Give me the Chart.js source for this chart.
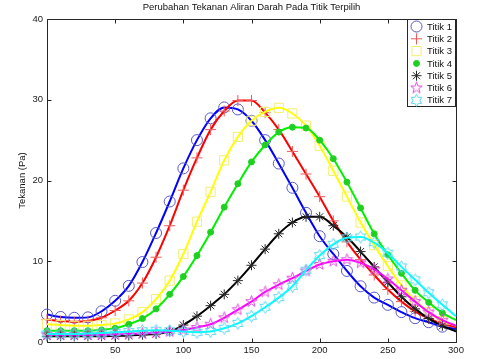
<!DOCTYPE html>
<html><head><meta charset="utf-8">
<script src="https://cdn.jsdelivr.net/npm/chart.js@4/dist/chart.umd.min.js"></script>
<style>html,body{margin:0;padding:0;background:#fff;}canvas{display:block;}</style>
</head><body>
<canvas id="c" width="479" height="359"></canvas>
<script>
// ---- data ----
const xValues = [0,10,20,30,40,50,60,70,80,90,100,110,120,130,140,150,160,170,180,190,200,210,220,230,240,250,260,270,280,290,300];
const seriesNames = ['Titik 1','Titik 2','Titik 3','Titik 4','Titik 5','Titik 6','Titik 7'];
const titik1 = [3.4,3.1,3.0,3.05,3.8,5.1,6.95,9.9,13.5,17.4,21.5,25.0,27.7,29.05,28.8,27.4,25.0,22.1,19.1,16.0,13.1,10.9,8.8,6.9,5.5,4.6,3.7,2.95,2.45,1.9,1.6];
const titik2 = [2.8,2.6,2.5,2.6,3.0,3.9,5.1,7.3,10.5,14.4,18.8,22.8,26.3,28.6,29.9,29.9,28.4,26.3,23.6,20.8,18.0,15.0,12.4,10.2,8.3,6.5,5.0,3.8,2.9,2.3,1.8];
const titik3 = [2.2,2.1,2.0,2.0,2.1,2.3,2.8,3.7,5.3,7.6,10.9,14.9,18.6,22.5,25.4,27.4,28.5,29.0,28.3,26.8,24.3,21.2,18.0,14.8,12.0,9.4,7.0,5.1,3.7,2.6,2.0];
const titik4 = [1.4,1.4,1.4,1.4,1.5,1.7,2.2,2.9,4.1,5.9,8.1,10.7,13.6,16.7,19.6,22.3,24.4,26.0,26.6,26.5,25.0,22.7,19.8,16.6,13.4,10.8,8.5,6.4,4.9,3.6,2.7];
const titik5 = [0.7,0.7,0.7,0.7,0.7,0.75,0.8,0.9,1.0,1.3,2.1,3.2,4.5,5.9,7.6,9.5,11.5,13.4,14.8,15.5,15.5,14.4,13.0,11.2,9.3,7.4,5.6,4.1,2.9,2.0,1.3];
const titik6 = [0.9,0.9,0.9,0.9,0.9,0.95,1.0,1.05,1.15,1.3,1.5,1.8,2.2,3.0,4.0,5.0,6.2,7.1,7.9,8.8,9.6,10.0,10.2,9.8,9.0,7.8,6.4,5.0,3.7,2.7,2.0];
const titik7 = [1.0,1.0,1.0,1.05,1.1,1.2,1.3,1.4,1.45,1.4,1.3,1.2,1.3,1.7,2.3,3.2,4.3,5.5,6.9,8.9,10.7,12.1,12.9,13.0,12.3,11.0,9.3,7.7,6.1,4.6,3.2];
const xTicks = [0,50,100,150,200,250,300];
const yTicks = [0,10,20,30,40];
const lastMarkerX = 290;

// ---- styles ----
const FONT = "'Liberation Sans', Arial, Helvetica, sans-serif";
const lineColors = ['#0000ff','#ff0000','#ffff00','#00f000','#000000','#ff00ff','#00ffff'];
const markerColors = ['#5a5ac8','#ee5a5a','#f4ee70','#20d020','#2a2a2a','#e050e0','#55d8f0'];

function starCanvas(n, R, innerRatio, color) {
  const s = Math.ceil(R*2+3);
  const c = document.createElement('canvas');
  c.width = s; c.height = s;
  const g = c.getContext('2d');
  g.strokeStyle = color; g.lineWidth = 1;
  g.beginPath();
  for (let i = 0; i < n*2; i++) {
    const r = i % 2 === 0 ? R : R*innerRatio;
    const a = -Math.PI/2 + i*Math.PI/n;
    const px = s/2 + r*Math.cos(a), py = s/2 + r*Math.sin(a);
    if (i === 0) g.moveTo(px, py); else g.lineTo(px, py);
  }
  g.closePath(); g.stroke();
  return c;
}
const pentagram = starCanvas(5, 6, 0.4, markerColors[5]);
const hexagram = starCanvas(6, 6, 0.58, markerColors[6]);

const pointStyles = ['circle','cross','rect','circle','star',pentagram,hexagram];
const pointRadii = [5.5,5.5,6.5,3,5,5,5];
const pointFills = ['rgba(0,0,0,0)','rgba(0,0,0,0)','rgba(0,0,0,0)',markerColors[3],'rgba(0,0,0,0)','rgba(0,0,0,0)','rgba(0,0,0,0)'];
const allSeries = [titik1,titik2,titik3,titik4,titik5,titik6,titik7];

const datasets = allSeries.map((vals, i) => ({
  label: seriesNames[i],
  data: xValues.map((x, k) => ({x, y: vals[k]})),
  borderColor: lineColors[i],
  borderWidth: 2,
  cubicInterpolationMode: 'monotone',
  pointStyle: pointStyles[i],
  pointRadius: ctx => (xValues[ctx.dataIndex] > lastMarkerX ? 0 : pointRadii[i]),
  pointBorderColor: markerColors[i],
  pointBackgroundColor: pointFills[i],
  pointBorderWidth: 1,
  fill: false,
  clip: false,
  order: 6 - i
}));

const axesPlugin = {
  id: 'matlabAxes',
  beforeDatasetsDraw(chart) {
    const {ctx, chartArea, scales} = chart;
    const l = Math.round(chartArea.left)+0.5, r = Math.round(chartArea.right)+0.5;
    const t = Math.round(chartArea.top)+0.5, b = Math.round(chartArea.bottom)+0.5;
    ctx.save();
    ctx.strokeStyle = '#262626'; ctx.lineWidth = 1;
    ctx.beginPath();
    ctx.rect(l, t, r-l, b-t);
    xTicks.forEach(v => {
      const px = Math.round(scales.x.getPixelForValue(v))+0.5;
      ctx.moveTo(px, b); ctx.lineTo(px, b-4);
      ctx.moveTo(px, t); ctx.lineTo(px, t+4);
    });
    yTicks.forEach(v => {
      const py = Math.round(scales.y.getPixelForValue(v))+0.5;
      ctx.moveTo(l, py); ctx.lineTo(l+4, py);
      ctx.moveTo(r, py); ctx.lineTo(r-4, py);
    });
    ctx.stroke();
    ctx.restore();
  },
  afterDraw(chart) {
    const {ctx} = chart;
    const bx0 = 407.5, bx1 = 455.5, by0 = 19.5, by1 = 106.5;
    ctx.save();
    ctx.fillStyle = '#fff';
    ctx.fillRect(bx0, by0, bx1-bx0, by1-by0);
    ctx.strokeStyle = '#262626'; ctx.lineWidth = 1;
    ctx.strokeRect(bx0, by0, bx1-bx0, by1-by0);
    ctx.font = '9.5px ' + FONT;
    ctx.textBaseline = 'middle'; ctx.textAlign = 'left';
    seriesNames.forEach((name, i) => {
      const y = 26.5 + i*12.3;
      ctx.strokeStyle = markerColors[i];
      ctx.fillStyle = pointFills[i];
      ctx.lineWidth = 1;
      Chart.helpers.drawPoint(ctx, {pointStyle: pointStyles[i], radius: pointRadii[i], borderWidth: 1, rotation: 0}, 416.5, y);
      ctx.fillStyle = '#111';
      ctx.fillText(name, 427, y + 0.5);
    });
    ctx.restore();
  }
};

new Chart(document.getElementById('c'), {
  type: 'line',
  data: {datasets},
  plugins: [axesPlugin],
  options: {
    responsive: false,
    animation: false,
    devicePixelRatio: 1,
    layout: {padding: {left: 0, right: 23, top: 0, bottom: 0}},
    plugins: {
      legend: {display: false},
      tooltip: {enabled: false},
      title: {
        display: true,
        text: 'Perubahan Tekanan Aliran Darah Pada Titik Terpilih',
        fullSize: false,
        color: '#111',
        font: {family: FONT, size: 9.5, weight: 'normal'},
        padding: {top: 2, bottom: 5.6}
      }
    },
    scales: {
      x: {
        type: 'linear', min: 0, max: 300,
        grid: {display: false, drawTicks: false},
        border: {display: false},
        afterBuildTicks: s => { s.ticks = xTicks.map(v => ({value: v})); },
        ticks: {
          color: '#222', padding: 3, maxRotation: 0, autoSkip: false,
          font: {family: FONT, size: 9.5},
          callback: v => (v === 0 ? '' : String(v))
        },
        afterFit: s => { s.height = 17; }
      },
      y: {
        type: 'linear', min: 0, max: 40,
        grid: {display: false, drawTicks: false},
        border: {display: false},
        afterBuildTicks: s => { s.ticks = yTicks.map(v => ({value: v})); },
        ticks: {color: '#222', padding: 4, font: {family: FONT, size: 9.5}},
        title: {
          display: true, text: 'Tekanan (Pa)', color: '#111',
          font: {family: FONT, size: 9.5},
          padding: {top: 17, bottom: 0}
        },
        afterFit: s => { s.width = 47; }
      }
    }
  }
});
</script>
</body></html>
